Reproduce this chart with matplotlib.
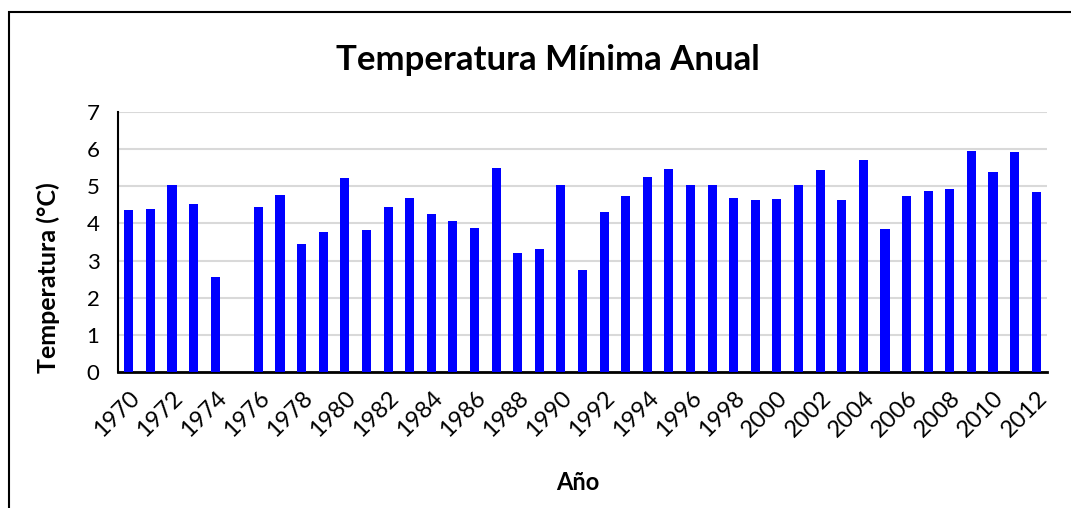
import numpy as np
import matplotlib.pyplot as plt
from matplotlib.patches import Rectangle

# Temperatura mínima anual (°C), 1975 sin dato
years = list(range(1970, 2013))
tmin = [4.37, 4.39, 5.04, 4.51, 2.56, np.nan, 4.43, 4.77, 3.44, 3.78,
        5.22, 3.83, 4.45, 4.68, 4.26, 4.06, 3.89, 5.48, 3.20, 3.30,
        5.04, 2.75, 4.32, 4.73, 5.25, 5.46, 5.04, 5.04, 4.68, 4.63,
        4.67, 5.03, 5.44, 4.63, 5.70, 3.85, 4.73, 4.86, 4.94, 5.94,
        5.38, 5.91, 4.84]
tick_years = years[::2]

plt.rcParams['font.family'] = ['Lato', 'DejaVu Sans']

fig = plt.figure(figsize=(10.71, 5.08), dpi=100)
ax = fig.add_axes([118 / 1071, 1 - 372 / 508, (1047 - 118) / 1071, (372 - 112) / 508])

# borde del gráfico
fig.patches.append(Rectangle((9 / 1071, -0.1), 1.2, 1 - 12 / 508 + 0.1,
                             transform=fig.transFigure, fill=False,
                             edgecolor='black', linewidth=1.5))

x = np.arange(len(years))
ax.bar(x, np.nan_to_num(tmin), width=0.42, color='#0000FF', zorder=3)

ax.set_xlim(-0.5, len(years) - 0.5)
ax.set_ylim(0, 7)
ax.set_yticks(range(0, 8))
ax.yaxis.grid(True, color='#D9D9D9', linewidth=1.5, zorder=0)
ax.set_xticks([years.index(y) for y in tick_years])
ax.set_xticklabels(tick_years, rotation=45, ha='right', va='top',
                   rotation_mode='anchor')
ax.tick_params(axis='both', length=0)
ax.tick_params(axis='y', pad=18, labelsize=16)
ax.tick_params(axis='x', pad=11, labelsize=17)
for lbl in ax.get_yticklabels():
    lbl.set_horizontalalignment('center')

for s in ['top', 'right']:
    ax.spines[s].set_visible(False)
ax.spines['left'].set_linewidth(1.5)
ax.spines['bottom'].set_linewidth(2)

fig.text(48 / 1071, 1 - 278 / 508, 'Temperatura (°C)', ha='center', va='center',
         rotation=90, fontsize=18, fontweight='bold')
fig.text(578 / 1071, 1 - 482 / 508, 'Año', ha='center', va='center',
         fontsize=17, fontweight='bold')
fig.text(548 / 1071, 1 - 60 / 508, 'Temperatura Mínima Anual', ha='center',
         va='center', fontsize=25, fontweight='bold')

fig.savefig('out.png', dpi=100)
